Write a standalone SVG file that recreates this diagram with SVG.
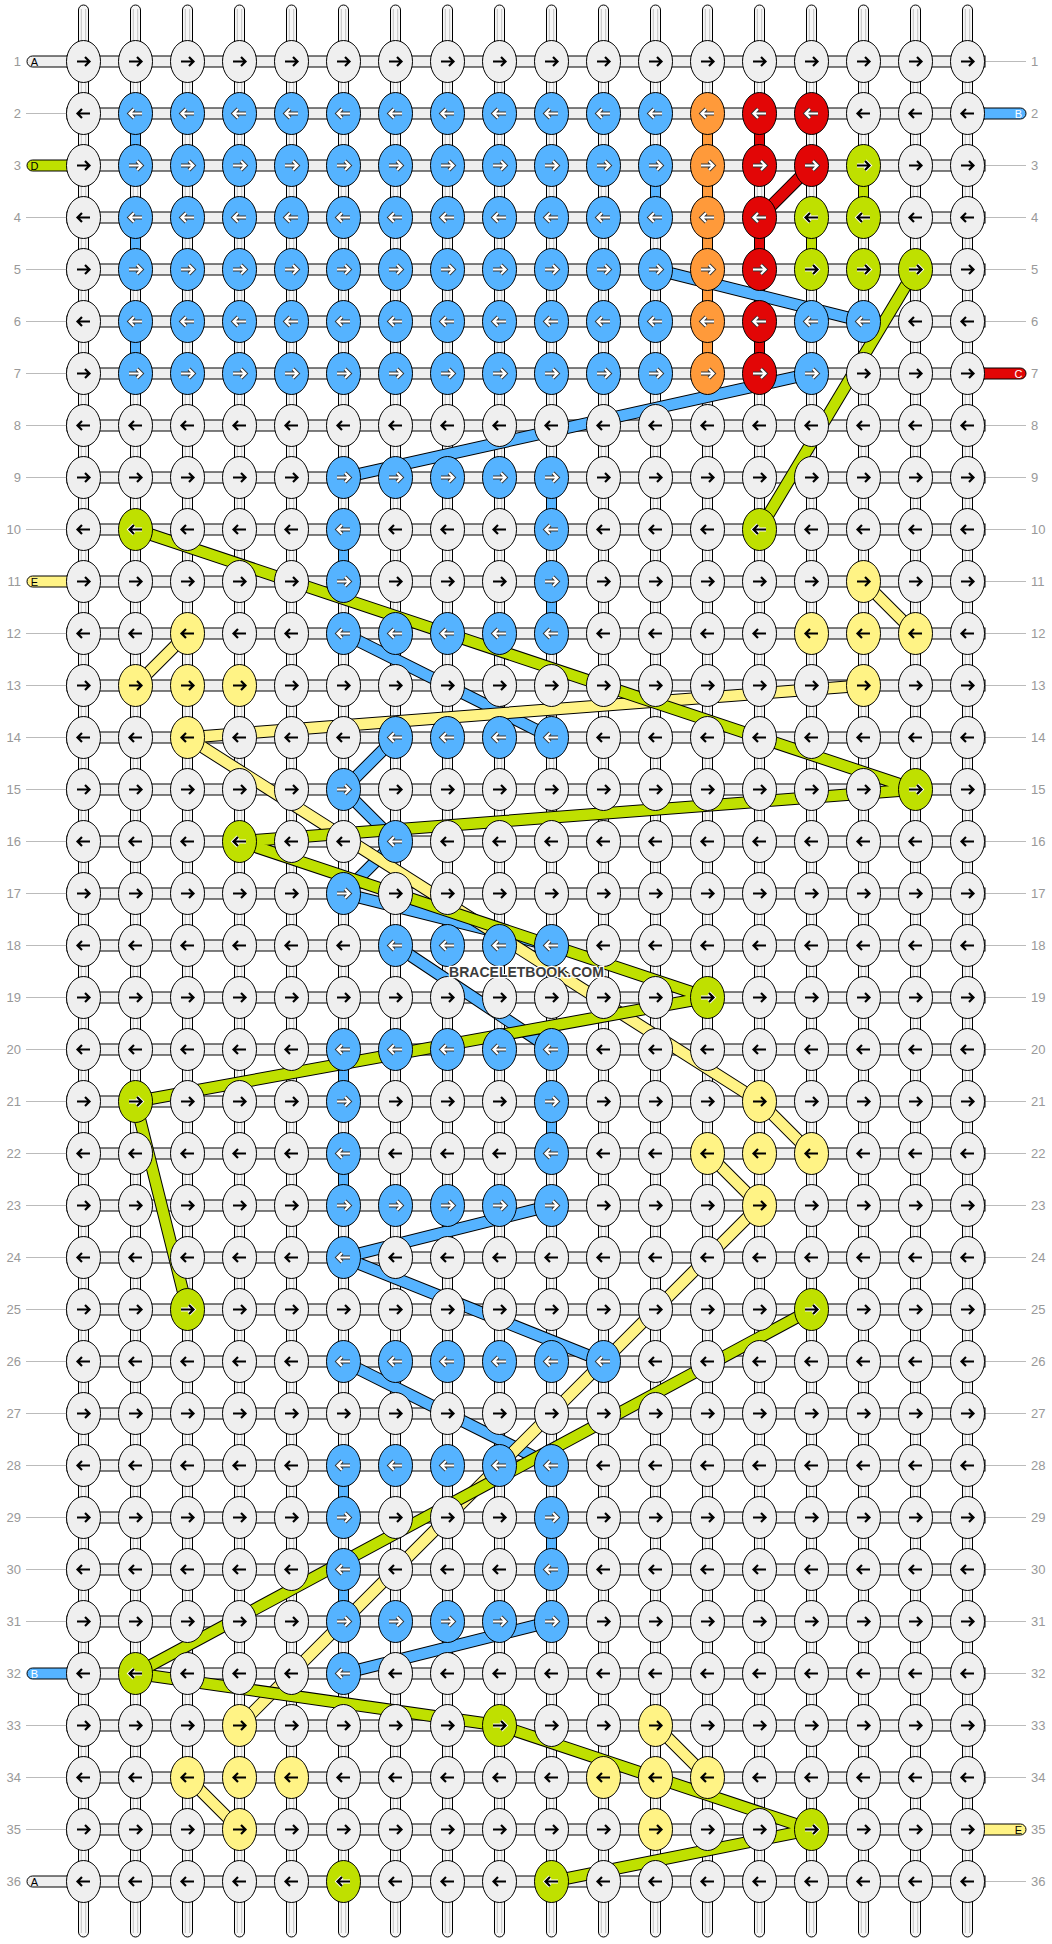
<svg xmlns="http://www.w3.org/2000/svg" xmlns:xlink="http://www.w3.org/1999/xlink" width="1052" height="1944" viewBox="0 0 1052 1944">
<style>
.num{font-family:"Liberation Sans",Arial,sans-serif;font-size:13px;fill:#999}
.nl{text-anchor:end}
.hb{fill:#efefef;stroke:#000;stroke-width:1}
.st{fill:#f7f7f7;stroke:#000;stroke-width:1}
.si{stroke:#c4c4c4;stroke-width:1}
.vb{stroke:#000;stroke-width:1}
.gl{stroke:#bbb;stroke-width:1}
.tab{stroke:#000;stroke-width:1}
.tl{font-family:"Liberation Sans",Arial,sans-serif;font-size:11px;text-anchor:middle}
.lo{fill:none;stroke:#000;stroke-width:12.5}
.lf{fill:none;stroke-width:10.5}
.wm{font-family:"Liberation Sans",Arial,sans-serif;font-size:14px;font-weight:bold;fill:#3c3c3c;stroke:#fff;stroke-width:2.5;paint-order:stroke;text-anchor:middle}
</style>
<defs>
<path id="a" d="M-6.5,0H6M1.5,-4.5L6,0L1.5,4.5" fill="none"/>
<rect id="hbr" class="hb" x="67" y="-5.5" width="918" height="11"/>
<rect id="vbr" class="vb" x="-5" y="15" width="10" height="22"/>
<g id="strand"><rect class="st" x="-5" y="5" width="10" height="1932" rx="5"/><path class="si" d="M-2.2,9V1933M2.2,9V1933"/></g>
<g id="WR"><ellipse rx="17" ry="21" fill="#efefef" stroke="#000"/><use href="#a" stroke="#000" stroke-width="2.2"/></g>
<g id="WL"><ellipse rx="17" ry="21" fill="#efefef" stroke="#000"/><use href="#a" transform="scale(-1,1)" stroke="#000" stroke-width="2.2"/></g>
<g id="BR"><ellipse rx="17" ry="21" fill="#55b3ff" stroke="#000"/><use href="#a" stroke="#333" stroke-width="4"/><use href="#a" stroke="#fff" stroke-width="2.2"/></g>
<g id="BL"><ellipse rx="17" ry="21" fill="#55b3ff" stroke="#000"/><g transform="scale(-1,1)"><use href="#a" stroke="#333" stroke-width="4"/><use href="#a" stroke="#fff" stroke-width="2.2"/></g></g>
<g id="OR"><ellipse rx="17" ry="21" fill="#ff9a3a" stroke="#000"/><use href="#a" stroke="#333" stroke-width="4"/><use href="#a" stroke="#fff" stroke-width="2.2"/></g>
<g id="OL"><ellipse rx="17" ry="21" fill="#ff9a3a" stroke="#000"/><g transform="scale(-1,1)"><use href="#a" stroke="#333" stroke-width="4"/><use href="#a" stroke="#fff" stroke-width="2.2"/></g></g>
<g id="RR"><ellipse rx="17" ry="21" fill="#e20606" stroke="#000"/><use href="#a" stroke="#333" stroke-width="4"/><use href="#a" stroke="#fff" stroke-width="2.2"/></g>
<g id="RL"><ellipse rx="17" ry="21" fill="#e20606" stroke="#000"/><g transform="scale(-1,1)"><use href="#a" stroke="#333" stroke-width="4"/><use href="#a" stroke="#fff" stroke-width="2.2"/></g></g>
<g id="GR"><ellipse rx="17" ry="21" fill="#bfe000" stroke="#000"/><use href="#a" stroke="#fff" stroke-width="4"/><use href="#a" stroke="#000" stroke-width="2.2"/></g>
<g id="GL"><ellipse rx="17" ry="21" fill="#bfe000" stroke="#000"/><g transform="scale(-1,1)"><use href="#a" stroke="#fff" stroke-width="4"/><use href="#a" stroke="#000" stroke-width="2.2"/></g></g>
<g id="YR"><ellipse rx="17" ry="21" fill="#fff385" stroke="#000"/><use href="#a" stroke="#000" stroke-width="2.2"/></g>
<g id="YL"><ellipse rx="17" ry="21" fill="#fff385" stroke="#000"/><use href="#a" transform="scale(-1,1)" stroke="#000" stroke-width="2.2"/></g>
<path id="pB" d="M655.5,269.5L863.5,321.5M811.5,373.5L343.5,477.5M343.5,633.5L551.5,737.5M395.5,737.5L343.5,789.5M343.5,789.5L395.5,841.5M395.5,841.5L343.5,893.5M343.5,893.5L551.5,945.5M395.5,945.5L551.5,1049.5M551.5,1205.5L343.5,1257.5M343.5,1257.5L603.5,1361.5M343.5,1361.5L551.5,1465.5M551.5,1621.5L343.5,1673.5"/>
<path id="pG" d="M915.5,269.5L759.5,529.5M135.5,529.5L915.5,789.5M915.5,789.5L239.5,841.5M239.5,841.5L707.5,997.5M707.5,997.5L135.5,1101.5M135.5,1101.5L187.5,1309.5M811.5,1309.5L135.5,1673.5M135.5,1673.5L499.5,1725.5M499.5,1725.5L811.5,1829.5M811.5,1829.5L551.5,1881.5"/>
<path id="pY" d="M863.5,581.5L915.5,633.5M187.5,633.5L135.5,685.5M863.5,685.5L187.5,737.5M187.5,737.5L759.5,1101.5M759.5,1101.5L811.5,1153.5M707.5,1153.5L759.5,1205.5M759.5,1205.5L239.5,1725.5M655.5,1725.5L707.5,1777.5M187.5,1777.5L239.5,1829.5"/>
<path id="pR" d="M811.5,165.5L759.5,217.5"/>
</defs>
<rect width="1052" height="1944" fill="#fff"/>
<g id="connectors">
<g id="strands">
<use href="#strand" x="83.5"/><use href="#strand" x="135.5"/><use href="#strand" x="187.5"/><use href="#strand" x="239.5"/><use href="#strand" x="291.5"/><use href="#strand" x="343.5"/><use href="#strand" x="395.5"/><use href="#strand" x="447.5"/><use href="#strand" x="499.5"/><use href="#strand" x="551.5"/><use href="#strand" x="603.5"/><use href="#strand" x="655.5"/><use href="#strand" x="707.5"/><use href="#strand" x="759.5"/><use href="#strand" x="811.5"/><use href="#strand" x="863.5"/><use href="#strand" x="915.5"/><use href="#strand" x="967.5"/>
</g>
<g id="guides">
<path class="gl" d="M26,113.5H67M26,217.5H67M26,269.5H67M26,321.5H67M26,373.5H67M26,425.5H67M26,477.5H67M26,529.5H67M26,633.5H67M26,685.5H67M26,737.5H67M26,789.5H67M26,841.5H67M26,893.5H67M26,945.5H67M26,997.5H67M26,1049.5H67M26,1101.5H67M26,1153.5H67M26,1205.5H67M26,1257.5H67M26,1309.5H67M26,1361.5H67M26,1413.5H67M26,1465.5H67M26,1517.5H67M26,1569.5H67M26,1621.5H67M26,1725.5H67M26,1777.5H67M26,1829.5H67"/>
<path class="gl" d="M985,61.5H1026M985,165.5H1026M985,217.5H1026M985,269.5H1026M985,321.5H1026M985,425.5H1026M985,477.5H1026M985,529.5H1026M985,581.5H1026M985,633.5H1026M985,685.5H1026M985,737.5H1026M985,789.5H1026M985,841.5H1026M985,893.5H1026M985,945.5H1026M985,997.5H1026M985,1049.5H1026M985,1101.5H1026M985,1153.5H1026M985,1205.5H1026M985,1257.5H1026M985,1309.5H1026M985,1361.5H1026M985,1413.5H1026M985,1465.5H1026M985,1517.5H1026M985,1569.5H1026M985,1621.5H1026M985,1673.5H1026M985,1725.5H1026M985,1777.5H1026M985,1881.5H1026"/>
</g>
<g id="rows">
<use href="#hbr" y="61.5"/><use href="#hbr" y="113.5"/><use href="#hbr" y="165.5"/><use href="#hbr" y="217.5"/><use href="#hbr" y="269.5"/><use href="#hbr" y="321.5"/><use href="#hbr" y="373.5"/><use href="#hbr" y="425.5"/><use href="#hbr" y="477.5"/><use href="#hbr" y="529.5"/><use href="#hbr" y="581.5"/><use href="#hbr" y="633.5"/><use href="#hbr" y="685.5"/><use href="#hbr" y="737.5"/><use href="#hbr" y="789.5"/><use href="#hbr" y="841.5"/><use href="#hbr" y="893.5"/><use href="#hbr" y="945.5"/><use href="#hbr" y="997.5"/><use href="#hbr" y="1049.5"/><use href="#hbr" y="1101.5"/><use href="#hbr" y="1153.5"/><use href="#hbr" y="1205.5"/><use href="#hbr" y="1257.5"/><use href="#hbr" y="1309.5"/><use href="#hbr" y="1361.5"/><use href="#hbr" y="1413.5"/><use href="#hbr" y="1465.5"/><use href="#hbr" y="1517.5"/><use href="#hbr" y="1569.5"/><use href="#hbr" y="1621.5"/><use href="#hbr" y="1673.5"/><use href="#hbr" y="1725.5"/><use href="#hbr" y="1777.5"/><use href="#hbr" y="1829.5"/><use href="#hbr" y="1881.5"/>
</g>
<g id="tabs">
<rect class="tab" x="27" y="56" width="46" height="11" rx="5.5" fill="#efefef"/>
<rect class="tab" x="27" y="160" width="46" height="11" rx="5.5" fill="#bfe000"/>
<rect class="tab" x="27" y="576" width="46" height="11" rx="5.5" fill="#fff385"/>
<rect class="tab" x="27" y="1668" width="46" height="11" rx="5.5" fill="#55b3ff"/>
<rect class="tab" x="27" y="1876" width="46" height="11" rx="5.5" fill="#efefef"/>
<rect class="tab" x="980" y="108" width="46" height="11" rx="5.5" fill="#55b3ff"/>
<rect class="tab" x="980" y="368" width="46" height="11" rx="5.5" fill="#e20606"/>
<rect class="tab" x="980" y="1824" width="46" height="11" rx="5.5" fill="#fff385"/>
</g>
<g id="vertical-links">
<g fill="#55b3ff"><use href="#vbr" x="135.5" y="113.5"/><use href="#vbr" x="135.5" y="217.5"/><use href="#vbr" x="135.5" y="321.5"/><use href="#vbr" x="655.5" y="165.5"/><use href="#vbr" x="551.5" y="477.5"/><use href="#vbr" x="551.5" y="581.5"/><use href="#vbr" x="551.5" y="1101.5"/><use href="#vbr" x="551.5" y="1517.5"/><use href="#vbr" x="343.5" y="529.5"/><use href="#vbr" x="343.5" y="1049.5"/><use href="#vbr" x="343.5" y="1153.5"/><use href="#vbr" x="343.5" y="1465.5"/><use href="#vbr" x="343.5" y="1569.5"/></g>
<g fill="#ff9a3a"><use href="#vbr" x="707.5" y="113.5"/><use href="#vbr" x="707.5" y="165.5"/><use href="#vbr" x="707.5" y="217.5"/><use href="#vbr" x="707.5" y="269.5"/><use href="#vbr" x="707.5" y="321.5"/></g>
<g fill="#e20606"><use href="#vbr" x="759.5" y="113.5"/><use href="#vbr" x="759.5" y="217.5"/><use href="#vbr" x="759.5" y="269.5"/><use href="#vbr" x="759.5" y="321.5"/></g>
<g fill="#bfe000"><use href="#vbr" x="863.5" y="165.5"/><use href="#vbr" x="811.5" y="217.5"/></g>
</g>
<g id="diagonals">
<use href="#pB" class="lo"/><use href="#pB" class="lf" stroke="#55b3ff"/>
<use href="#pY" class="lo"/><use href="#pY" class="lf" stroke="#fff385"/>
<use href="#pG" class="lo"/><use href="#pG" class="lf" stroke="#bfe000"/>
<use href="#pR" class="lo"/><use href="#pR" class="lf" stroke="#e20606"/>
</g>
</g>
<g id="nodes">
<g transform="translate(0,61.5)"><g id="n1-1"><use href="#WR" x="83.5"/></g><g id="n1-2"><use href="#WR" x="135.5"/></g><g id="n1-3"><use href="#WR" x="187.5"/></g><g id="n1-4"><use href="#WR" x="239.5"/></g><g id="n1-5"><use href="#WR" x="291.5"/></g><g id="n1-6"><use href="#WR" x="343.5"/></g><g id="n1-7"><use href="#WR" x="395.5"/></g><g id="n1-8"><use href="#WR" x="447.5"/></g><g id="n1-9"><use href="#WR" x="499.5"/></g><g id="n1-10"><use href="#WR" x="551.5"/></g><g id="n1-11"><use href="#WR" x="603.5"/></g><g id="n1-12"><use href="#WR" x="655.5"/></g><g id="n1-13"><use href="#WR" x="707.5"/></g><g id="n1-14"><use href="#WR" x="759.5"/></g><g id="n1-15"><use href="#WR" x="811.5"/></g><g id="n1-16"><use href="#WR" x="863.5"/></g><g id="n1-17"><use href="#WR" x="915.5"/></g><g id="n1-18"><use href="#WR" x="967.5"/></g></g>
<g transform="translate(0,113.5)"><g id="n2-1"><use href="#WL" x="83.5"/></g><g id="n2-2"><use href="#BL" x="135.5"/></g><g id="n2-3"><use href="#BL" x="187.5"/></g><g id="n2-4"><use href="#BL" x="239.5"/></g><g id="n2-5"><use href="#BL" x="291.5"/></g><g id="n2-6"><use href="#BL" x="343.5"/></g><g id="n2-7"><use href="#BL" x="395.5"/></g><g id="n2-8"><use href="#BL" x="447.5"/></g><g id="n2-9"><use href="#BL" x="499.5"/></g><g id="n2-10"><use href="#BL" x="551.5"/></g><g id="n2-11"><use href="#BL" x="603.5"/></g><g id="n2-12"><use href="#BL" x="655.5"/></g><g id="n2-13"><use href="#OL" x="707.5"/></g><g id="n2-14"><use href="#RL" x="759.5"/></g><g id="n2-15"><use href="#RL" x="811.5"/></g><g id="n2-16"><use href="#WL" x="863.5"/></g><g id="n2-17"><use href="#WL" x="915.5"/></g><g id="n2-18"><use href="#WL" x="967.5"/></g></g>
<g transform="translate(0,165.5)"><g id="n3-1"><use href="#WR" x="83.5"/></g><g id="n3-2"><use href="#BR" x="135.5"/></g><g id="n3-3"><use href="#BR" x="187.5"/></g><g id="n3-4"><use href="#BR" x="239.5"/></g><g id="n3-5"><use href="#BR" x="291.5"/></g><g id="n3-6"><use href="#BR" x="343.5"/></g><g id="n3-7"><use href="#BR" x="395.5"/></g><g id="n3-8"><use href="#BR" x="447.5"/></g><g id="n3-9"><use href="#BR" x="499.5"/></g><g id="n3-10"><use href="#BR" x="551.5"/></g><g id="n3-11"><use href="#BR" x="603.5"/></g><g id="n3-12"><use href="#BR" x="655.5"/></g><g id="n3-13"><use href="#OR" x="707.5"/></g><g id="n3-14"><use href="#RR" x="759.5"/></g><g id="n3-15"><use href="#RR" x="811.5"/></g><g id="n3-16"><use href="#GR" x="863.5"/></g><g id="n3-17"><use href="#WR" x="915.5"/></g><g id="n3-18"><use href="#WR" x="967.5"/></g></g>
<g transform="translate(0,217.5)"><g id="n4-1"><use href="#WL" x="83.5"/></g><g id="n4-2"><use href="#BL" x="135.5"/></g><g id="n4-3"><use href="#BL" x="187.5"/></g><g id="n4-4"><use href="#BL" x="239.5"/></g><g id="n4-5"><use href="#BL" x="291.5"/></g><g id="n4-6"><use href="#BL" x="343.5"/></g><g id="n4-7"><use href="#BL" x="395.5"/></g><g id="n4-8"><use href="#BL" x="447.5"/></g><g id="n4-9"><use href="#BL" x="499.5"/></g><g id="n4-10"><use href="#BL" x="551.5"/></g><g id="n4-11"><use href="#BL" x="603.5"/></g><g id="n4-12"><use href="#BL" x="655.5"/></g><g id="n4-13"><use href="#OL" x="707.5"/></g><g id="n4-14"><use href="#RL" x="759.5"/></g><g id="n4-15"><use href="#GL" x="811.5"/></g><g id="n4-16"><use href="#GL" x="863.5"/></g><g id="n4-17"><use href="#WL" x="915.5"/></g><g id="n4-18"><use href="#WL" x="967.5"/></g></g>
<g transform="translate(0,269.5)"><g id="n5-1"><use href="#WR" x="83.5"/></g><g id="n5-2"><use href="#BR" x="135.5"/></g><g id="n5-3"><use href="#BR" x="187.5"/></g><g id="n5-4"><use href="#BR" x="239.5"/></g><g id="n5-5"><use href="#BR" x="291.5"/></g><g id="n5-6"><use href="#BR" x="343.5"/></g><g id="n5-7"><use href="#BR" x="395.5"/></g><g id="n5-8"><use href="#BR" x="447.5"/></g><g id="n5-9"><use href="#BR" x="499.5"/></g><g id="n5-10"><use href="#BR" x="551.5"/></g><g id="n5-11"><use href="#BR" x="603.5"/></g><g id="n5-12"><use href="#BR" x="655.5"/></g><g id="n5-13"><use href="#OR" x="707.5"/></g><g id="n5-14"><use href="#RR" x="759.5"/></g><g id="n5-15"><use href="#GR" x="811.5"/></g><g id="n5-16"><use href="#GR" x="863.5"/></g><g id="n5-17"><use href="#GR" x="915.5"/></g><g id="n5-18"><use href="#WR" x="967.5"/></g></g>
<g transform="translate(0,321.5)"><g id="n6-1"><use href="#WL" x="83.5"/></g><g id="n6-2"><use href="#BL" x="135.5"/></g><g id="n6-3"><use href="#BL" x="187.5"/></g><g id="n6-4"><use href="#BL" x="239.5"/></g><g id="n6-5"><use href="#BL" x="291.5"/></g><g id="n6-6"><use href="#BL" x="343.5"/></g><g id="n6-7"><use href="#BL" x="395.5"/></g><g id="n6-8"><use href="#BL" x="447.5"/></g><g id="n6-9"><use href="#BL" x="499.5"/></g><g id="n6-10"><use href="#BL" x="551.5"/></g><g id="n6-11"><use href="#BL" x="603.5"/></g><g id="n6-12"><use href="#BL" x="655.5"/></g><g id="n6-13"><use href="#OL" x="707.5"/></g><g id="n6-14"><use href="#RL" x="759.5"/></g><g id="n6-15"><use href="#BL" x="811.5"/></g><g id="n6-16"><use href="#BL" x="863.5"/></g><g id="n6-17"><use href="#WL" x="915.5"/></g><g id="n6-18"><use href="#WL" x="967.5"/></g></g>
<g transform="translate(0,373.5)"><g id="n7-1"><use href="#WR" x="83.5"/></g><g id="n7-2"><use href="#BR" x="135.5"/></g><g id="n7-3"><use href="#BR" x="187.5"/></g><g id="n7-4"><use href="#BR" x="239.5"/></g><g id="n7-5"><use href="#BR" x="291.5"/></g><g id="n7-6"><use href="#BR" x="343.5"/></g><g id="n7-7"><use href="#BR" x="395.5"/></g><g id="n7-8"><use href="#BR" x="447.5"/></g><g id="n7-9"><use href="#BR" x="499.5"/></g><g id="n7-10"><use href="#BR" x="551.5"/></g><g id="n7-11"><use href="#BR" x="603.5"/></g><g id="n7-12"><use href="#BR" x="655.5"/></g><g id="n7-13"><use href="#OR" x="707.5"/></g><g id="n7-14"><use href="#RR" x="759.5"/></g><g id="n7-15"><use href="#BR" x="811.5"/></g><g id="n7-16"><use href="#WR" x="863.5"/></g><g id="n7-17"><use href="#WR" x="915.5"/></g><g id="n7-18"><use href="#WR" x="967.5"/></g></g>
<g transform="translate(0,425.5)"><g id="n8-1"><use href="#WL" x="83.5"/></g><g id="n8-2"><use href="#WL" x="135.5"/></g><g id="n8-3"><use href="#WL" x="187.5"/></g><g id="n8-4"><use href="#WL" x="239.5"/></g><g id="n8-5"><use href="#WL" x="291.5"/></g><g id="n8-6"><use href="#WL" x="343.5"/></g><g id="n8-7"><use href="#WL" x="395.5"/></g><g id="n8-8"><use href="#WL" x="447.5"/></g><g id="n8-9"><use href="#WL" x="499.5"/></g><g id="n8-10"><use href="#WL" x="551.5"/></g><g id="n8-11"><use href="#WL" x="603.5"/></g><g id="n8-12"><use href="#WL" x="655.5"/></g><g id="n8-13"><use href="#WL" x="707.5"/></g><g id="n8-14"><use href="#WL" x="759.5"/></g><g id="n8-15"><use href="#WL" x="811.5"/></g><g id="n8-16"><use href="#WL" x="863.5"/></g><g id="n8-17"><use href="#WL" x="915.5"/></g><g id="n8-18"><use href="#WL" x="967.5"/></g></g>
<g transform="translate(0,477.5)"><g id="n9-1"><use href="#WR" x="83.5"/></g><g id="n9-2"><use href="#WR" x="135.5"/></g><g id="n9-3"><use href="#WR" x="187.5"/></g><g id="n9-4"><use href="#WR" x="239.5"/></g><g id="n9-5"><use href="#WR" x="291.5"/></g><g id="n9-6"><use href="#BR" x="343.5"/></g><g id="n9-7"><use href="#BR" x="395.5"/></g><g id="n9-8"><use href="#BR" x="447.5"/></g><g id="n9-9"><use href="#BR" x="499.5"/></g><g id="n9-10"><use href="#BR" x="551.5"/></g><g id="n9-11"><use href="#WR" x="603.5"/></g><g id="n9-12"><use href="#WR" x="655.5"/></g><g id="n9-13"><use href="#WR" x="707.5"/></g><g id="n9-14"><use href="#WR" x="759.5"/></g><g id="n9-15"><use href="#WR" x="811.5"/></g><g id="n9-16"><use href="#WR" x="863.5"/></g><g id="n9-17"><use href="#WR" x="915.5"/></g><g id="n9-18"><use href="#WR" x="967.5"/></g></g>
<g transform="translate(0,529.5)"><g id="n10-1"><use href="#WL" x="83.5"/></g><g id="n10-2"><use href="#GL" x="135.5"/></g><g id="n10-3"><use href="#WL" x="187.5"/></g><g id="n10-4"><use href="#WL" x="239.5"/></g><g id="n10-5"><use href="#WL" x="291.5"/></g><g id="n10-6"><use href="#BL" x="343.5"/></g><g id="n10-7"><use href="#WL" x="395.5"/></g><g id="n10-8"><use href="#WL" x="447.5"/></g><g id="n10-9"><use href="#WL" x="499.5"/></g><g id="n10-10"><use href="#BL" x="551.5"/></g><g id="n10-11"><use href="#WL" x="603.5"/></g><g id="n10-12"><use href="#WL" x="655.5"/></g><g id="n10-13"><use href="#WL" x="707.5"/></g><g id="n10-14"><use href="#GL" x="759.5"/></g><g id="n10-15"><use href="#WL" x="811.5"/></g><g id="n10-16"><use href="#WL" x="863.5"/></g><g id="n10-17"><use href="#WL" x="915.5"/></g><g id="n10-18"><use href="#WL" x="967.5"/></g></g>
<g transform="translate(0,581.5)"><g id="n11-1"><use href="#WR" x="83.5"/></g><g id="n11-2"><use href="#WR" x="135.5"/></g><g id="n11-3"><use href="#WR" x="187.5"/></g><g id="n11-4"><use href="#WR" x="239.5"/></g><g id="n11-5"><use href="#WR" x="291.5"/></g><g id="n11-6"><use href="#BR" x="343.5"/></g><g id="n11-7"><use href="#WR" x="395.5"/></g><g id="n11-8"><use href="#WR" x="447.5"/></g><g id="n11-9"><use href="#WR" x="499.5"/></g><g id="n11-10"><use href="#BR" x="551.5"/></g><g id="n11-11"><use href="#WR" x="603.5"/></g><g id="n11-12"><use href="#WR" x="655.5"/></g><g id="n11-13"><use href="#WR" x="707.5"/></g><g id="n11-14"><use href="#WR" x="759.5"/></g><g id="n11-15"><use href="#WR" x="811.5"/></g><g id="n11-16"><use href="#YR" x="863.5"/></g><g id="n11-17"><use href="#WR" x="915.5"/></g><g id="n11-18"><use href="#WR" x="967.5"/></g></g>
<g transform="translate(0,633.5)"><g id="n12-1"><use href="#WL" x="83.5"/></g><g id="n12-2"><use href="#WL" x="135.5"/></g><g id="n12-3"><use href="#YL" x="187.5"/></g><g id="n12-4"><use href="#WL" x="239.5"/></g><g id="n12-5"><use href="#WL" x="291.5"/></g><g id="n12-6"><use href="#BL" x="343.5"/></g><g id="n12-7"><use href="#BL" x="395.5"/></g><g id="n12-8"><use href="#BL" x="447.5"/></g><g id="n12-9"><use href="#BL" x="499.5"/></g><g id="n12-10"><use href="#BL" x="551.5"/></g><g id="n12-11"><use href="#WL" x="603.5"/></g><g id="n12-12"><use href="#WL" x="655.5"/></g><g id="n12-13"><use href="#WL" x="707.5"/></g><g id="n12-14"><use href="#WL" x="759.5"/></g><g id="n12-15"><use href="#YL" x="811.5"/></g><g id="n12-16"><use href="#YL" x="863.5"/></g><g id="n12-17"><use href="#YL" x="915.5"/></g><g id="n12-18"><use href="#WL" x="967.5"/></g></g>
<g transform="translate(0,685.5)"><g id="n13-1"><use href="#WR" x="83.5"/></g><g id="n13-2"><use href="#YR" x="135.5"/></g><g id="n13-3"><use href="#YR" x="187.5"/></g><g id="n13-4"><use href="#YR" x="239.5"/></g><g id="n13-5"><use href="#WR" x="291.5"/></g><g id="n13-6"><use href="#WR" x="343.5"/></g><g id="n13-7"><use href="#WR" x="395.5"/></g><g id="n13-8"><use href="#WR" x="447.5"/></g><g id="n13-9"><use href="#WR" x="499.5"/></g><g id="n13-10"><use href="#WR" x="551.5"/></g><g id="n13-11"><use href="#WR" x="603.5"/></g><g id="n13-12"><use href="#WR" x="655.5"/></g><g id="n13-13"><use href="#WR" x="707.5"/></g><g id="n13-14"><use href="#WR" x="759.5"/></g><g id="n13-15"><use href="#WR" x="811.5"/></g><g id="n13-16"><use href="#YR" x="863.5"/></g><g id="n13-17"><use href="#WR" x="915.5"/></g><g id="n13-18"><use href="#WR" x="967.5"/></g></g>
<g transform="translate(0,737.5)"><g id="n14-1"><use href="#WL" x="83.5"/></g><g id="n14-2"><use href="#WL" x="135.5"/></g><g id="n14-3"><use href="#YL" x="187.5"/></g><g id="n14-4"><use href="#WL" x="239.5"/></g><g id="n14-5"><use href="#WL" x="291.5"/></g><g id="n14-6"><use href="#WL" x="343.5"/></g><g id="n14-7"><use href="#BL" x="395.5"/></g><g id="n14-8"><use href="#BL" x="447.5"/></g><g id="n14-9"><use href="#BL" x="499.5"/></g><g id="n14-10"><use href="#BL" x="551.5"/></g><g id="n14-11"><use href="#WL" x="603.5"/></g><g id="n14-12"><use href="#WL" x="655.5"/></g><g id="n14-13"><use href="#WL" x="707.5"/></g><g id="n14-14"><use href="#WL" x="759.5"/></g><g id="n14-15"><use href="#WL" x="811.5"/></g><g id="n14-16"><use href="#WL" x="863.5"/></g><g id="n14-17"><use href="#WL" x="915.5"/></g><g id="n14-18"><use href="#WL" x="967.5"/></g></g>
<g transform="translate(0,789.5)"><g id="n15-1"><use href="#WR" x="83.5"/></g><g id="n15-2"><use href="#WR" x="135.5"/></g><g id="n15-3"><use href="#WR" x="187.5"/></g><g id="n15-4"><use href="#WR" x="239.5"/></g><g id="n15-5"><use href="#WR" x="291.5"/></g><g id="n15-6"><use href="#BR" x="343.5"/></g><g id="n15-7"><use href="#WR" x="395.5"/></g><g id="n15-8"><use href="#WR" x="447.5"/></g><g id="n15-9"><use href="#WR" x="499.5"/></g><g id="n15-10"><use href="#WR" x="551.5"/></g><g id="n15-11"><use href="#WR" x="603.5"/></g><g id="n15-12"><use href="#WR" x="655.5"/></g><g id="n15-13"><use href="#WR" x="707.5"/></g><g id="n15-14"><use href="#WR" x="759.5"/></g><g id="n15-15"><use href="#WR" x="811.5"/></g><g id="n15-16"><use href="#WR" x="863.5"/></g><g id="n15-17"><use href="#GR" x="915.5"/></g><g id="n15-18"><use href="#WR" x="967.5"/></g></g>
<g transform="translate(0,841.5)"><g id="n16-1"><use href="#WL" x="83.5"/></g><g id="n16-2"><use href="#WL" x="135.5"/></g><g id="n16-3"><use href="#WL" x="187.5"/></g><g id="n16-4"><use href="#GL" x="239.5"/></g><g id="n16-5"><use href="#WL" x="291.5"/></g><g id="n16-6"><use href="#WL" x="343.5"/></g><g id="n16-7"><use href="#BL" x="395.5"/></g><g id="n16-8"><use href="#WL" x="447.5"/></g><g id="n16-9"><use href="#WL" x="499.5"/></g><g id="n16-10"><use href="#WL" x="551.5"/></g><g id="n16-11"><use href="#WL" x="603.5"/></g><g id="n16-12"><use href="#WL" x="655.5"/></g><g id="n16-13"><use href="#WL" x="707.5"/></g><g id="n16-14"><use href="#WL" x="759.5"/></g><g id="n16-15"><use href="#WL" x="811.5"/></g><g id="n16-16"><use href="#WL" x="863.5"/></g><g id="n16-17"><use href="#WL" x="915.5"/></g><g id="n16-18"><use href="#WL" x="967.5"/></g></g>
<g transform="translate(0,893.5)"><g id="n17-1"><use href="#WR" x="83.5"/></g><g id="n17-2"><use href="#WR" x="135.5"/></g><g id="n17-3"><use href="#WR" x="187.5"/></g><g id="n17-4"><use href="#WR" x="239.5"/></g><g id="n17-5"><use href="#WR" x="291.5"/></g><g id="n17-6"><use href="#BR" x="343.5"/></g><g id="n17-7"><use href="#WR" x="395.5"/></g><g id="n17-8"><use href="#WR" x="447.5"/></g><g id="n17-9"><use href="#WR" x="499.5"/></g><g id="n17-10"><use href="#WR" x="551.5"/></g><g id="n17-11"><use href="#WR" x="603.5"/></g><g id="n17-12"><use href="#WR" x="655.5"/></g><g id="n17-13"><use href="#WR" x="707.5"/></g><g id="n17-14"><use href="#WR" x="759.5"/></g><g id="n17-15"><use href="#WR" x="811.5"/></g><g id="n17-16"><use href="#WR" x="863.5"/></g><g id="n17-17"><use href="#WR" x="915.5"/></g><g id="n17-18"><use href="#WR" x="967.5"/></g></g>
<g transform="translate(0,945.5)"><g id="n18-1"><use href="#WL" x="83.5"/></g><g id="n18-2"><use href="#WL" x="135.5"/></g><g id="n18-3"><use href="#WL" x="187.5"/></g><g id="n18-4"><use href="#WL" x="239.5"/></g><g id="n18-5"><use href="#WL" x="291.5"/></g><g id="n18-6"><use href="#WL" x="343.5"/></g><g id="n18-7"><use href="#BL" x="395.5"/></g><g id="n18-8"><use href="#BL" x="447.5"/></g><g id="n18-9"><use href="#BL" x="499.5"/></g><g id="n18-10"><use href="#BL" x="551.5"/></g><g id="n18-11"><use href="#WL" x="603.5"/></g><g id="n18-12"><use href="#WL" x="655.5"/></g><g id="n18-13"><use href="#WL" x="707.5"/></g><g id="n18-14"><use href="#WL" x="759.5"/></g><g id="n18-15"><use href="#WL" x="811.5"/></g><g id="n18-16"><use href="#WL" x="863.5"/></g><g id="n18-17"><use href="#WL" x="915.5"/></g><g id="n18-18"><use href="#WL" x="967.5"/></g></g>
<g transform="translate(0,997.5)"><g id="n19-1"><use href="#WR" x="83.5"/></g><g id="n19-2"><use href="#WR" x="135.5"/></g><g id="n19-3"><use href="#WR" x="187.5"/></g><g id="n19-4"><use href="#WR" x="239.5"/></g><g id="n19-5"><use href="#WR" x="291.5"/></g><g id="n19-6"><use href="#WR" x="343.5"/></g><g id="n19-7"><use href="#WR" x="395.5"/></g><g id="n19-8"><use href="#WR" x="447.5"/></g><g id="n19-9"><use href="#WR" x="499.5"/></g><g id="n19-10"><use href="#WR" x="551.5"/></g><g id="n19-11"><use href="#WR" x="603.5"/></g><g id="n19-12"><use href="#WR" x="655.5"/></g><g id="n19-13"><use href="#GR" x="707.5"/></g><g id="n19-14"><use href="#WR" x="759.5"/></g><g id="n19-15"><use href="#WR" x="811.5"/></g><g id="n19-16"><use href="#WR" x="863.5"/></g><g id="n19-17"><use href="#WR" x="915.5"/></g><g id="n19-18"><use href="#WR" x="967.5"/></g></g>
<g transform="translate(0,1049.5)"><g id="n20-1"><use href="#WL" x="83.5"/></g><g id="n20-2"><use href="#WL" x="135.5"/></g><g id="n20-3"><use href="#WL" x="187.5"/></g><g id="n20-4"><use href="#WL" x="239.5"/></g><g id="n20-5"><use href="#WL" x="291.5"/></g><g id="n20-6"><use href="#BL" x="343.5"/></g><g id="n20-7"><use href="#BL" x="395.5"/></g><g id="n20-8"><use href="#BL" x="447.5"/></g><g id="n20-9"><use href="#BL" x="499.5"/></g><g id="n20-10"><use href="#BL" x="551.5"/></g><g id="n20-11"><use href="#WL" x="603.5"/></g><g id="n20-12"><use href="#WL" x="655.5"/></g><g id="n20-13"><use href="#WL" x="707.5"/></g><g id="n20-14"><use href="#WL" x="759.5"/></g><g id="n20-15"><use href="#WL" x="811.5"/></g><g id="n20-16"><use href="#WL" x="863.5"/></g><g id="n20-17"><use href="#WL" x="915.5"/></g><g id="n20-18"><use href="#WL" x="967.5"/></g></g>
<g transform="translate(0,1101.5)"><g id="n21-1"><use href="#WR" x="83.5"/></g><g id="n21-2"><use href="#GR" x="135.5"/></g><g id="n21-3"><use href="#WR" x="187.5"/></g><g id="n21-4"><use href="#WR" x="239.5"/></g><g id="n21-5"><use href="#WR" x="291.5"/></g><g id="n21-6"><use href="#BR" x="343.5"/></g><g id="n21-7"><use href="#WR" x="395.5"/></g><g id="n21-8"><use href="#WR" x="447.5"/></g><g id="n21-9"><use href="#WR" x="499.5"/></g><g id="n21-10"><use href="#BR" x="551.5"/></g><g id="n21-11"><use href="#WR" x="603.5"/></g><g id="n21-12"><use href="#WR" x="655.5"/></g><g id="n21-13"><use href="#WR" x="707.5"/></g><g id="n21-14"><use href="#YR" x="759.5"/></g><g id="n21-15"><use href="#WR" x="811.5"/></g><g id="n21-16"><use href="#WR" x="863.5"/></g><g id="n21-17"><use href="#WR" x="915.5"/></g><g id="n21-18"><use href="#WR" x="967.5"/></g></g>
<g transform="translate(0,1153.5)"><g id="n22-1"><use href="#WL" x="83.5"/></g><g id="n22-2"><use href="#WL" x="135.5"/></g><g id="n22-3"><use href="#WL" x="187.5"/></g><g id="n22-4"><use href="#WL" x="239.5"/></g><g id="n22-5"><use href="#WL" x="291.5"/></g><g id="n22-6"><use href="#BL" x="343.5"/></g><g id="n22-7"><use href="#WL" x="395.5"/></g><g id="n22-8"><use href="#WL" x="447.5"/></g><g id="n22-9"><use href="#WL" x="499.5"/></g><g id="n22-10"><use href="#BL" x="551.5"/></g><g id="n22-11"><use href="#WL" x="603.5"/></g><g id="n22-12"><use href="#WL" x="655.5"/></g><g id="n22-13"><use href="#YL" x="707.5"/></g><g id="n22-14"><use href="#YL" x="759.5"/></g><g id="n22-15"><use href="#YL" x="811.5"/></g><g id="n22-16"><use href="#WL" x="863.5"/></g><g id="n22-17"><use href="#WL" x="915.5"/></g><g id="n22-18"><use href="#WL" x="967.5"/></g></g>
<g transform="translate(0,1205.5)"><g id="n23-1"><use href="#WR" x="83.5"/></g><g id="n23-2"><use href="#WR" x="135.5"/></g><g id="n23-3"><use href="#WR" x="187.5"/></g><g id="n23-4"><use href="#WR" x="239.5"/></g><g id="n23-5"><use href="#WR" x="291.5"/></g><g id="n23-6"><use href="#BR" x="343.5"/></g><g id="n23-7"><use href="#BR" x="395.5"/></g><g id="n23-8"><use href="#BR" x="447.5"/></g><g id="n23-9"><use href="#BR" x="499.5"/></g><g id="n23-10"><use href="#BR" x="551.5"/></g><g id="n23-11"><use href="#WR" x="603.5"/></g><g id="n23-12"><use href="#WR" x="655.5"/></g><g id="n23-13"><use href="#WR" x="707.5"/></g><g id="n23-14"><use href="#YR" x="759.5"/></g><g id="n23-15"><use href="#WR" x="811.5"/></g><g id="n23-16"><use href="#WR" x="863.5"/></g><g id="n23-17"><use href="#WR" x="915.5"/></g><g id="n23-18"><use href="#WR" x="967.5"/></g></g>
<g transform="translate(0,1257.5)"><g id="n24-1"><use href="#WL" x="83.5"/></g><g id="n24-2"><use href="#WL" x="135.5"/></g><g id="n24-3"><use href="#WL" x="187.5"/></g><g id="n24-4"><use href="#WL" x="239.5"/></g><g id="n24-5"><use href="#WL" x="291.5"/></g><g id="n24-6"><use href="#BL" x="343.5"/></g><g id="n24-7"><use href="#WL" x="395.5"/></g><g id="n24-8"><use href="#WL" x="447.5"/></g><g id="n24-9"><use href="#WL" x="499.5"/></g><g id="n24-10"><use href="#WL" x="551.5"/></g><g id="n24-11"><use href="#WL" x="603.5"/></g><g id="n24-12"><use href="#WL" x="655.5"/></g><g id="n24-13"><use href="#WL" x="707.5"/></g><g id="n24-14"><use href="#WL" x="759.5"/></g><g id="n24-15"><use href="#WL" x="811.5"/></g><g id="n24-16"><use href="#WL" x="863.5"/></g><g id="n24-17"><use href="#WL" x="915.5"/></g><g id="n24-18"><use href="#WL" x="967.5"/></g></g>
<g transform="translate(0,1309.5)"><g id="n25-1"><use href="#WR" x="83.5"/></g><g id="n25-2"><use href="#WR" x="135.5"/></g><g id="n25-3"><use href="#GR" x="187.5"/></g><g id="n25-4"><use href="#WR" x="239.5"/></g><g id="n25-5"><use href="#WR" x="291.5"/></g><g id="n25-6"><use href="#WR" x="343.5"/></g><g id="n25-7"><use href="#WR" x="395.5"/></g><g id="n25-8"><use href="#WR" x="447.5"/></g><g id="n25-9"><use href="#WR" x="499.5"/></g><g id="n25-10"><use href="#WR" x="551.5"/></g><g id="n25-11"><use href="#WR" x="603.5"/></g><g id="n25-12"><use href="#WR" x="655.5"/></g><g id="n25-13"><use href="#WR" x="707.5"/></g><g id="n25-14"><use href="#WR" x="759.5"/></g><g id="n25-15"><use href="#GR" x="811.5"/></g><g id="n25-16"><use href="#WR" x="863.5"/></g><g id="n25-17"><use href="#WR" x="915.5"/></g><g id="n25-18"><use href="#WR" x="967.5"/></g></g>
<g transform="translate(0,1361.5)"><g id="n26-1"><use href="#WL" x="83.5"/></g><g id="n26-2"><use href="#WL" x="135.5"/></g><g id="n26-3"><use href="#WL" x="187.5"/></g><g id="n26-4"><use href="#WL" x="239.5"/></g><g id="n26-5"><use href="#WL" x="291.5"/></g><g id="n26-6"><use href="#BL" x="343.5"/></g><g id="n26-7"><use href="#BL" x="395.5"/></g><g id="n26-8"><use href="#BL" x="447.5"/></g><g id="n26-9"><use href="#BL" x="499.5"/></g><g id="n26-10"><use href="#BL" x="551.5"/></g><g id="n26-11"><use href="#BL" x="603.5"/></g><g id="n26-12"><use href="#WL" x="655.5"/></g><g id="n26-13"><use href="#WL" x="707.5"/></g><g id="n26-14"><use href="#WL" x="759.5"/></g><g id="n26-15"><use href="#WL" x="811.5"/></g><g id="n26-16"><use href="#WL" x="863.5"/></g><g id="n26-17"><use href="#WL" x="915.5"/></g><g id="n26-18"><use href="#WL" x="967.5"/></g></g>
<g transform="translate(0,1413.5)"><g id="n27-1"><use href="#WR" x="83.5"/></g><g id="n27-2"><use href="#WR" x="135.5"/></g><g id="n27-3"><use href="#WR" x="187.5"/></g><g id="n27-4"><use href="#WR" x="239.5"/></g><g id="n27-5"><use href="#WR" x="291.5"/></g><g id="n27-6"><use href="#WR" x="343.5"/></g><g id="n27-7"><use href="#WR" x="395.5"/></g><g id="n27-8"><use href="#WR" x="447.5"/></g><g id="n27-9"><use href="#WR" x="499.5"/></g><g id="n27-10"><use href="#WR" x="551.5"/></g><g id="n27-11"><use href="#WR" x="603.5"/></g><g id="n27-12"><use href="#WR" x="655.5"/></g><g id="n27-13"><use href="#WR" x="707.5"/></g><g id="n27-14"><use href="#WR" x="759.5"/></g><g id="n27-15"><use href="#WR" x="811.5"/></g><g id="n27-16"><use href="#WR" x="863.5"/></g><g id="n27-17"><use href="#WR" x="915.5"/></g><g id="n27-18"><use href="#WR" x="967.5"/></g></g>
<g transform="translate(0,1465.5)"><g id="n28-1"><use href="#WL" x="83.5"/></g><g id="n28-2"><use href="#WL" x="135.5"/></g><g id="n28-3"><use href="#WL" x="187.5"/></g><g id="n28-4"><use href="#WL" x="239.5"/></g><g id="n28-5"><use href="#WL" x="291.5"/></g><g id="n28-6"><use href="#BL" x="343.5"/></g><g id="n28-7"><use href="#BL" x="395.5"/></g><g id="n28-8"><use href="#BL" x="447.5"/></g><g id="n28-9"><use href="#BL" x="499.5"/></g><g id="n28-10"><use href="#BL" x="551.5"/></g><g id="n28-11"><use href="#WL" x="603.5"/></g><g id="n28-12"><use href="#WL" x="655.5"/></g><g id="n28-13"><use href="#WL" x="707.5"/></g><g id="n28-14"><use href="#WL" x="759.5"/></g><g id="n28-15"><use href="#WL" x="811.5"/></g><g id="n28-16"><use href="#WL" x="863.5"/></g><g id="n28-17"><use href="#WL" x="915.5"/></g><g id="n28-18"><use href="#WL" x="967.5"/></g></g>
<g transform="translate(0,1517.5)"><g id="n29-1"><use href="#WR" x="83.5"/></g><g id="n29-2"><use href="#WR" x="135.5"/></g><g id="n29-3"><use href="#WR" x="187.5"/></g><g id="n29-4"><use href="#WR" x="239.5"/></g><g id="n29-5"><use href="#WR" x="291.5"/></g><g id="n29-6"><use href="#BR" x="343.5"/></g><g id="n29-7"><use href="#WR" x="395.5"/></g><g id="n29-8"><use href="#WR" x="447.5"/></g><g id="n29-9"><use href="#WR" x="499.5"/></g><g id="n29-10"><use href="#BR" x="551.5"/></g><g id="n29-11"><use href="#WR" x="603.5"/></g><g id="n29-12"><use href="#WR" x="655.5"/></g><g id="n29-13"><use href="#WR" x="707.5"/></g><g id="n29-14"><use href="#WR" x="759.5"/></g><g id="n29-15"><use href="#WR" x="811.5"/></g><g id="n29-16"><use href="#WR" x="863.5"/></g><g id="n29-17"><use href="#WR" x="915.5"/></g><g id="n29-18"><use href="#WR" x="967.5"/></g></g>
<g transform="translate(0,1569.5)"><g id="n30-1"><use href="#WL" x="83.5"/></g><g id="n30-2"><use href="#WL" x="135.5"/></g><g id="n30-3"><use href="#WL" x="187.5"/></g><g id="n30-4"><use href="#WL" x="239.5"/></g><g id="n30-5"><use href="#WL" x="291.5"/></g><g id="n30-6"><use href="#BL" x="343.5"/></g><g id="n30-7"><use href="#WL" x="395.5"/></g><g id="n30-8"><use href="#WL" x="447.5"/></g><g id="n30-9"><use href="#WL" x="499.5"/></g><g id="n30-10"><use href="#BL" x="551.5"/></g><g id="n30-11"><use href="#WL" x="603.5"/></g><g id="n30-12"><use href="#WL" x="655.5"/></g><g id="n30-13"><use href="#WL" x="707.5"/></g><g id="n30-14"><use href="#WL" x="759.5"/></g><g id="n30-15"><use href="#WL" x="811.5"/></g><g id="n30-16"><use href="#WL" x="863.5"/></g><g id="n30-17"><use href="#WL" x="915.5"/></g><g id="n30-18"><use href="#WL" x="967.5"/></g></g>
<g transform="translate(0,1621.5)"><g id="n31-1"><use href="#WR" x="83.5"/></g><g id="n31-2"><use href="#WR" x="135.5"/></g><g id="n31-3"><use href="#WR" x="187.5"/></g><g id="n31-4"><use href="#WR" x="239.5"/></g><g id="n31-5"><use href="#WR" x="291.5"/></g><g id="n31-6"><use href="#BR" x="343.5"/></g><g id="n31-7"><use href="#BR" x="395.5"/></g><g id="n31-8"><use href="#BR" x="447.5"/></g><g id="n31-9"><use href="#BR" x="499.5"/></g><g id="n31-10"><use href="#BR" x="551.5"/></g><g id="n31-11"><use href="#WR" x="603.5"/></g><g id="n31-12"><use href="#WR" x="655.5"/></g><g id="n31-13"><use href="#WR" x="707.5"/></g><g id="n31-14"><use href="#WR" x="759.5"/></g><g id="n31-15"><use href="#WR" x="811.5"/></g><g id="n31-16"><use href="#WR" x="863.5"/></g><g id="n31-17"><use href="#WR" x="915.5"/></g><g id="n31-18"><use href="#WR" x="967.5"/></g></g>
<g transform="translate(0,1673.5)"><g id="n32-1"><use href="#WL" x="83.5"/></g><g id="n32-2"><use href="#GL" x="135.5"/></g><g id="n32-3"><use href="#WL" x="187.5"/></g><g id="n32-4"><use href="#WL" x="239.5"/></g><g id="n32-5"><use href="#WL" x="291.5"/></g><g id="n32-6"><use href="#BL" x="343.5"/></g><g id="n32-7"><use href="#WL" x="395.5"/></g><g id="n32-8"><use href="#WL" x="447.5"/></g><g id="n32-9"><use href="#WL" x="499.5"/></g><g id="n32-10"><use href="#WL" x="551.5"/></g><g id="n32-11"><use href="#WL" x="603.5"/></g><g id="n32-12"><use href="#WL" x="655.5"/></g><g id="n32-13"><use href="#WL" x="707.5"/></g><g id="n32-14"><use href="#WL" x="759.5"/></g><g id="n32-15"><use href="#WL" x="811.5"/></g><g id="n32-16"><use href="#WL" x="863.5"/></g><g id="n32-17"><use href="#WL" x="915.5"/></g><g id="n32-18"><use href="#WL" x="967.5"/></g></g>
<g transform="translate(0,1725.5)"><g id="n33-1"><use href="#WR" x="83.5"/></g><g id="n33-2"><use href="#WR" x="135.5"/></g><g id="n33-3"><use href="#WR" x="187.5"/></g><g id="n33-4"><use href="#YR" x="239.5"/></g><g id="n33-5"><use href="#WR" x="291.5"/></g><g id="n33-6"><use href="#WR" x="343.5"/></g><g id="n33-7"><use href="#WR" x="395.5"/></g><g id="n33-8"><use href="#WR" x="447.5"/></g><g id="n33-9"><use href="#GR" x="499.5"/></g><g id="n33-10"><use href="#WR" x="551.5"/></g><g id="n33-11"><use href="#WR" x="603.5"/></g><g id="n33-12"><use href="#YR" x="655.5"/></g><g id="n33-13"><use href="#WR" x="707.5"/></g><g id="n33-14"><use href="#WR" x="759.5"/></g><g id="n33-15"><use href="#WR" x="811.5"/></g><g id="n33-16"><use href="#WR" x="863.5"/></g><g id="n33-17"><use href="#WR" x="915.5"/></g><g id="n33-18"><use href="#WR" x="967.5"/></g></g>
<g transform="translate(0,1777.5)"><g id="n34-1"><use href="#WL" x="83.5"/></g><g id="n34-2"><use href="#WL" x="135.5"/></g><g id="n34-3"><use href="#YL" x="187.5"/></g><g id="n34-4"><use href="#YL" x="239.5"/></g><g id="n34-5"><use href="#YL" x="291.5"/></g><g id="n34-6"><use href="#WL" x="343.5"/></g><g id="n34-7"><use href="#WL" x="395.5"/></g><g id="n34-8"><use href="#WL" x="447.5"/></g><g id="n34-9"><use href="#WL" x="499.5"/></g><g id="n34-10"><use href="#WL" x="551.5"/></g><g id="n34-11"><use href="#YL" x="603.5"/></g><g id="n34-12"><use href="#YL" x="655.5"/></g><g id="n34-13"><use href="#YL" x="707.5"/></g><g id="n34-14"><use href="#WL" x="759.5"/></g><g id="n34-15"><use href="#WL" x="811.5"/></g><g id="n34-16"><use href="#WL" x="863.5"/></g><g id="n34-17"><use href="#WL" x="915.5"/></g><g id="n34-18"><use href="#WL" x="967.5"/></g></g>
<g transform="translate(0,1829.5)"><g id="n35-1"><use href="#WR" x="83.5"/></g><g id="n35-2"><use href="#WR" x="135.5"/></g><g id="n35-3"><use href="#WR" x="187.5"/></g><g id="n35-4"><use href="#YR" x="239.5"/></g><g id="n35-5"><use href="#WR" x="291.5"/></g><g id="n35-6"><use href="#WR" x="343.5"/></g><g id="n35-7"><use href="#WR" x="395.5"/></g><g id="n35-8"><use href="#WR" x="447.5"/></g><g id="n35-9"><use href="#WR" x="499.5"/></g><g id="n35-10"><use href="#WR" x="551.5"/></g><g id="n35-11"><use href="#WR" x="603.5"/></g><g id="n35-12"><use href="#YR" x="655.5"/></g><g id="n35-13"><use href="#WR" x="707.5"/></g><g id="n35-14"><use href="#WR" x="759.5"/></g><g id="n35-15"><use href="#GR" x="811.5"/></g><g id="n35-16"><use href="#WR" x="863.5"/></g><g id="n35-17"><use href="#WR" x="915.5"/></g><g id="n35-18"><use href="#WR" x="967.5"/></g></g>
<g transform="translate(0,1881.5)"><g id="n36-1"><use href="#WL" x="83.5"/></g><g id="n36-2"><use href="#WL" x="135.5"/></g><g id="n36-3"><use href="#WL" x="187.5"/></g><g id="n36-4"><use href="#WL" x="239.5"/></g><g id="n36-5"><use href="#WL" x="291.5"/></g><g id="n36-6"><use href="#GL" x="343.5"/></g><g id="n36-7"><use href="#WL" x="395.5"/></g><g id="n36-8"><use href="#WL" x="447.5"/></g><g id="n36-9"><use href="#WL" x="499.5"/></g><g id="n36-10"><use href="#GL" x="551.5"/></g><g id="n36-11"><use href="#WL" x="603.5"/></g><g id="n36-12"><use href="#WL" x="655.5"/></g><g id="n36-13"><use href="#WL" x="707.5"/></g><g id="n36-14"><use href="#WL" x="759.5"/></g><g id="n36-15"><use href="#WL" x="811.5"/></g><g id="n36-16"><use href="#WL" x="863.5"/></g><g id="n36-17"><use href="#WL" x="915.5"/></g><g id="n36-18"><use href="#WL" x="967.5"/></g></g>
</g>
<g id="tab-labels">
<text class="tl" x="34.5" y="65.5" fill="#000">A</text>
<text class="tl" x="34.5" y="169.5" fill="#000">D</text>
<text class="tl" x="34.5" y="585.5" fill="#000">E</text>
<text class="tl" x="34.5" y="1677.5" fill="#fff">B</text>
<text class="tl" x="34.5" y="1885.5" fill="#000">A</text>
<text class="tl" x="1018.5" y="117.5" fill="#fff">B</text>
<text class="tl" x="1018.5" y="377.5" fill="#fff">C</text>
<text class="tl" x="1018.5" y="1833.5" fill="#000">E</text>
</g>
<g id="row-numbers-left" class="num nl">
<text x="21" y="66">1</text><text x="21" y="118">2</text><text x="21" y="170">3</text><text x="21" y="222">4</text><text x="21" y="274">5</text><text x="21" y="326">6</text><text x="21" y="378">7</text><text x="21" y="430">8</text><text x="21" y="482">9</text><text x="21" y="534">10</text><text x="21" y="586">11</text><text x="21" y="638">12</text><text x="21" y="690">13</text><text x="21" y="742">14</text><text x="21" y="794">15</text><text x="21" y="846">16</text><text x="21" y="898">17</text><text x="21" y="950">18</text><text x="21" y="1002">19</text><text x="21" y="1054">20</text><text x="21" y="1106">21</text><text x="21" y="1158">22</text><text x="21" y="1210">23</text><text x="21" y="1262">24</text><text x="21" y="1314">25</text><text x="21" y="1366">26</text><text x="21" y="1418">27</text><text x="21" y="1470">28</text><text x="21" y="1522">29</text><text x="21" y="1574">30</text><text x="21" y="1626">31</text><text x="21" y="1678">32</text><text x="21" y="1730">33</text><text x="21" y="1782">34</text><text x="21" y="1834">35</text><text x="21" y="1886">36</text>
</g>
<g id="row-numbers-right" class="num">
<text x="1031" y="66">1</text><text x="1031" y="118">2</text><text x="1031" y="170">3</text><text x="1031" y="222">4</text><text x="1031" y="274">5</text><text x="1031" y="326">6</text><text x="1031" y="378">7</text><text x="1031" y="430">8</text><text x="1031" y="482">9</text><text x="1031" y="534">10</text><text x="1031" y="586">11</text><text x="1031" y="638">12</text><text x="1031" y="690">13</text><text x="1031" y="742">14</text><text x="1031" y="794">15</text><text x="1031" y="846">16</text><text x="1031" y="898">17</text><text x="1031" y="950">18</text><text x="1031" y="1002">19</text><text x="1031" y="1054">20</text><text x="1031" y="1106">21</text><text x="1031" y="1158">22</text><text x="1031" y="1210">23</text><text x="1031" y="1262">24</text><text x="1031" y="1314">25</text><text x="1031" y="1366">26</text><text x="1031" y="1418">27</text><text x="1031" y="1470">28</text><text x="1031" y="1522">29</text><text x="1031" y="1574">30</text><text x="1031" y="1626">31</text><text x="1031" y="1678">32</text><text x="1031" y="1730">33</text><text x="1031" y="1782">34</text><text x="1031" y="1834">35</text><text x="1031" y="1886">36</text>
</g>
<text class="wm" x="526.5" y="976.5">BRACELETBOOK.COM</text>
</svg>
